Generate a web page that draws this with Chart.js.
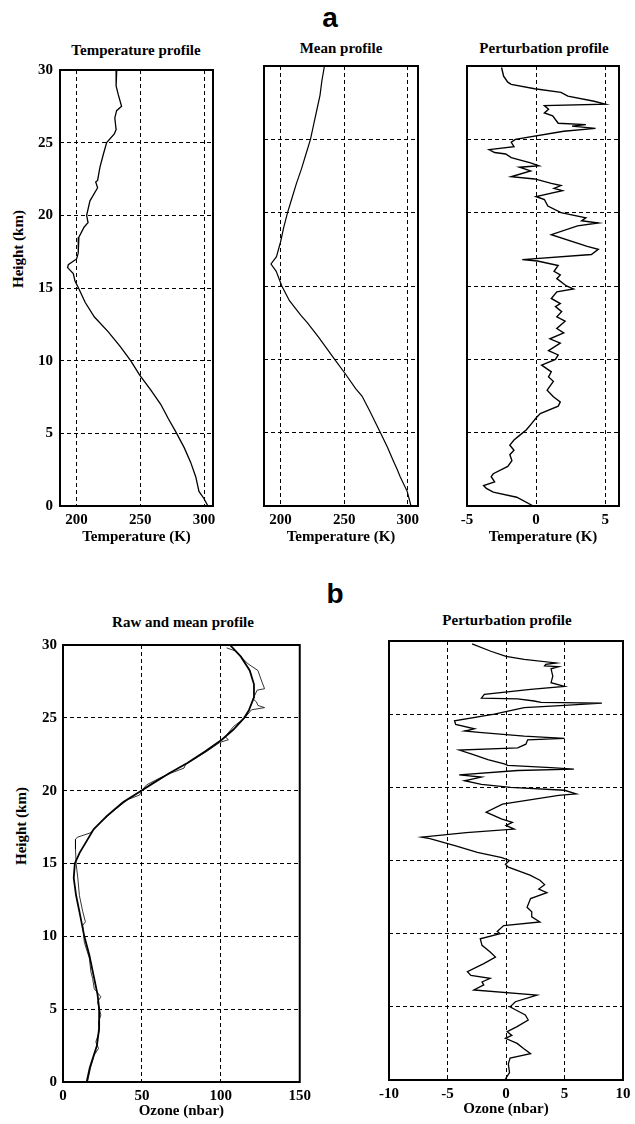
<!DOCTYPE html>
<html>
<head>
<meta charset="utf-8">
<script src="https://cdn.jsdelivr.net/npm/chart.js@4.4.1/dist/chart.umd.min.js"></script>
<style>
  html, body { margin: 0; padding: 0; background: #fff; }
  #page { position: relative; width: 635px; height: 1124px; overflow: hidden; background: #fff; }
  canvas { position: absolute; }
  .lbl { position: absolute; transform: translate(-50%, -50%); white-space: nowrap;
         font: bold 15px "Liberation Serif", "DejaVu Serif", serif; color: #000; }
  .panel { font: bold 28px "Liberation Sans", Arial, sans-serif; }
  .ytitle { transform: translate(-50%, -50%) rotate(-90deg); }
</style>
</head>
<body>
<div id="page">
  <div class="lbl panel" style="left:330px; top:18px">a</div>
  <div class="lbl" style="left:136px; top:50px">Temperature profile</div>
  <div class="lbl" style="left:341px; top:48px">Mean profile</div>
  <div class="lbl" style="left:544px; top:48px">Perturbation profile</div>
  <div class="lbl ytitle" style="left:18px; top:249px">Height (km)</div>

  <div class="lbl panel" style="left:335px; top:594px">b</div>
  <div class="lbl" style="left:183px; top:622px">Raw and mean profile</div>
  <div class="lbl" style="left:507px; top:620px">Perturbation profile</div>
  <div class="lbl ytitle" style="left:21px; top:826px">Height (km)</div>
</div>
<script>
// --- tick labels ---
const heightTicks = [0, 5, 10, 15, 20, 25, 30];
const tempTicks = [200, 250, 300];
const tempPertTicks = [-5, 0, 5];
const ozoneTicks = [0, 50, 100, 150];
const ozonePertTicks = [-10, -5, 0, 5, 10];

// --- a: temperature profile (height km, temperature K) ---
const tempH = [30, 29.5, 28.9, 28.3, 27.5, 27.2, 26.7, 25.9, 25.6, 25.0, 24.2, 23.3, 22.4, 22.3, 21.9, 21.0,
  20.0, 19.5, 19.2, 18.5, 17.4, 17.0, 16.6, 16.4, 16.0, 15.5, 15.0, 14.0, 13.0, 12.0, 11.0, 10.0,
  9.0, 8.0, 7.0, 6.0, 5.0, 4.0, 3.0, 2.0, 1.0, 0.5, 0.0];
const tempK = [231.5, 231, 231, 232.7, 235.3, 231.4, 230, 231, 229.6, 223.6, 221, 218.3, 216.5, 215, 216.5, 210.5,
  207.9, 209, 206, 201.8, 201.3, 200, 193.5, 193, 197.4, 198.7, 201.5, 206.8, 214, 224.7, 234, 242.4,
  249.5, 258, 266, 272, 278.5, 284.5, 289.5, 293.5, 296, 300, 303];

// --- a: mean profile ---
const meanH = [30, 29, 28, 27, 26, 25, 24, 23, 22, 21, 20, 19, 18, 17, 16.5, 16, 15, 14, 13, 12.5, 11.5,
  10, 9, 8, 7.5, 6.5, 5, 4, 3, 2.5, 2, 1, 0];
const meanK = [234.5, 232.5, 231, 228.5, 226, 223.5, 220, 216.5, 212.5, 209, 205.5, 202.5, 200, 196.8, 192.5, 196.6, 201, 207, 216, 221, 230,
  242.5, 251, 259, 264, 270, 278.5, 284, 289, 291.6, 294, 299.5, 302.5];

// --- a: perturbation profile ---
const pertH = [29.9, 29.3, 28.9, 28.75, 28.45, 28.2, 27.95, 27.6, 27.4, 27.3, 27.05, 26.8, 26.6, 26.1, 26.0, 25.9,
  25.75, 25.55, 25.0, 24.8, 24.5, 24.3, 24.1, 24.0, 23.75, 23.4, 23.2, 23.1, 22.85, 22.45, 22.3, 22.0,
  21.85, 21.65, 21.5, 21.1, 20.9, 20.45, 20.0, 19.65, 19.45, 19.3, 19.1, 18.5, 17.7, 17.5, 17.15, 16.8,
  16.7, 16.4, 16.0, 15.75, 15.5, 15.0, 14.8, 14.6, 14.15, 13.8, 13.6, 13.25, 12.9, 12.6, 12.1, 11.8,
  11.4, 11.1, 10.6, 10.3, 10.0, 9.6, 9.15, 8.8, 8.5, 7.9, 7.45, 7.1, 6.8, 6.3, 6.0, 5.65,
  5.2, 4.85, 4.5, 4.15, 3.8, 3.5, 3.1, 2.7, 2.2, 2.0, 1.65, 1.4, 1.2, 0.95, 0.6, 0.0];
const pertK = [-2.5, -2.35, -2.05, -1.8, -0.1, 1.8, 2.3, 4.2, 5.0, 0.6, 0.9, 0.6, 1.2, 1.6, 3.6, 2.6,
  4.3, 2.0, -1.5, -1.8, -1.6, -3.4, -3.0, -2.2, -1.8, -0.4, 0.2, -1.2, -0.4, -1.8, -0.1, 1.1,
  1.8, 1.3, 1.9, 0.0, 0.6, 0.85, 1.8, 3.6, 3.3, 4.5, 3.0, 1.1, 3.7, 4.5, 4.0, -1.0,
  0.1, 1.6, 1.3, 1.75, 1.5, 2.2, 2.7, 1.5, 1.1, 1.75, 1.4, 1.85, 1.5, 2.1, 1.5, 2.0,
  1.0, 1.75, 0.9, 1.6, 1.4, 0.4, 1.1, 0.9, 1.25, 0.8, 1.25, 1.75, 1.6, 0.3, 0.0, -0.3,
  -0.7, -1.15, -1.6, -1.9, -1.6, -1.9, -1.75, -2.05, -3.1, -3.25, -3.0, -3.8, -3.6, -3.1, -1.4, -0.2];

// --- b: ozone raw profile (height km, ozone nbar) ---
const ozoneRawH = [29.8, 29.6, 28.7, 28.25, 27.6, 27.0, 26.9, 26.3, 26.1, 25.85, 25.7, 25.55, 25.0, 24.4, 23.7, 23.5,
  23.3, 22.7, 22.35, 21.8, 21.55, 21.2, 20.85, 20.4, 20.05, 19.7, 19.4, 18.7, 17.8, 17.1, 16.8, 16.65,
  16.0, 15.0, 14.0, 12.8, 11.7, 11.0, 10.75, 9.6, 8.5, 7.55, 7.1, 6.4, 5.85, 5.5, 4.6, 4.1,
  3.45, 2.75, 2.3, 1.85, 1.0, 0.0];
const ozoneRaw = [103.7, 109, 117.3, 123.5, 125.6, 127.7, 123, 120.4, 122.5, 123.5, 127.7, 119.4, 115.2, 108, 102.7, 104.8,
  99.2, 91.2, 86, 77.7, 76.7, 68.3, 61, 53, 50.2, 48.5, 41.2, 33, 23.5, 17.3, 9, 7.9,
  7.9, 8.3, 9.4, 10.4, 12.5, 14.2, 12.5, 13.5, 16.7, 17.7, 18.8, 19.8, 24, 21.9, 24, 22.5,
  22.9, 20.8, 22.5, 19.8, 17.5, 15.5];

// --- b: ozone mean profile ---
const ozoneMeanH = [30, 29.2, 28.25, 27.3, 26.4, 25.5, 25.0, 24.2, 23.5, 22.7, 21.9, 21.2, 20.5, 20.0, 19.2, 18.25,
  17.35, 16.4, 15.75, 15.0, 14.0, 12.8, 11.7, 10.0, 8.7, 7.1, 6.0, 5.0, 3.7, 2.5, 1.0, 0.0];
const ozoneMean = [105.8, 112.7, 118.3, 121, 121, 117.7, 114.8, 108, 100.6, 90.2, 78.8, 67.3, 56.9, 49.6, 38, 27.7,
  19.4, 14.2, 10.6, 7.5, 6.8, 8.3, 10.4, 13.5, 16.7, 19.8, 21.9, 22.9, 22.9, 21.5, 17, 15];

// --- b: ozone perturbation profile ---
const ozonePertH = [29.8, 29.3, 28.95, 28.75, 28.5, 28.4, 28.3, 28.25, 28.1, 27.6, 27.15, 26.9, 26.7, 26.35, 26.1, 26.05,
  25.9, 25.8, 25.75, 25.6, 25.45, 25.0, 24.55, 24.3, 24.0, 23.85, 23.75, 23.5, 23.35, 23.25, 22.95, 22.7,
  22.55, 22.25, 21.9, 21.6, 21.5, 21.35, 21.25, 21.15, 20.85, 20.7, 20.45, 20.2, 20.0, 19.8, 19.55, 19.45,
  18.85, 18.3, 17.85, 17.6, 17.4, 17.15, 16.9, 16.6, 16.5, 16.0, 15.55, 15.2, 15.0, 14.75, 14.55, 14.0,
  13.65, 13.35, 13.05, 12.8, 12.4, 11.8, 11.5, 11.15, 10.8, 10.55, 10.15, 10.0, 9.65, 9.2, 8.75, 8.4,
  7.95, 7.4, 7.15, 6.95, 6.7, 6.5, 6.15, 5.8, 5.35, 5.0, 4.8, 4.45, 4.1, 3.65, 3.3, 3.05,
  2.85, 2.5, 2.15, 1.8, 1.5, 1.1, 0.5, 0.0];
const ozonePert = [-2.9, -1.3, 0, 1.55, 4.3, 3.4, 3.3, 4.5, 3.85, 4.0, 3.85, 5.0, 2.1, -1.85, -2.1, 1.0,
  2.4, 3.0, 8.2, 5.0, 1.55, -1.0, -4.4, -4.3, -2.7, -3.55, -2.3, 1.55, 5.0, 1.85, 1.7, 1.0,
  -4.0, -2.85, -1.55, -0.15, 0.15, 3.85, 5.8, 1.0, -4.0, -2.1, -3.55, -2.1, 0.4, 5.0, 6.0, 4.5,
  -0.3, -1.7, -0.4, 0.55, 0, 0.7, -3.4, -7.2, -6.5, -4.3, -2.45, -0.35, 0.3, -0.05, 0.2, 2.05,
  2.9, 3.3, 2.8, 3.5, 2.1, 1.8, 2.2, 2.2, 2.9, -0.2, -0.75, -0.5, -2.2, -2.05, -1.35, -0.9,
  -1.9, -3.3, -3.0, -1.35, -2.05, -1.9, -2.75, 2.65, 0.8, 0.35, 0.8, 1.65, 1.9, 0.95, 0.1, 0.5,
  -0.05, 0.95, 1.5, 2.1, 0.35, 0.2, 0.3, -0.1];

Chart.defaults.font.family = '"Liberation Serif", "DejaVu Serif", serif';
Chart.defaults.font.size = 15;
Chart.defaults.font.weight = 'bold';
Chart.defaults.color = '#000';

// frame drawn round each plot area
const framePlugin = {
  id: 'frame',
  afterDraw(chart) {
    const a = chart.chartArea;
    const ctx = chart.ctx;
    ctx.save();
    ctx.strokeStyle = '#000';
    ctx.lineWidth = 2;
    ctx.strokeRect(a.left, a.top, a.right - a.left, a.bottom - a.top);
    ctx.restore();
  }
};

function toPoints(heights, values) {
  return heights.map((h, i) => ({ x: values[i], y: h }));
}

function makeChart(box, opt) {
  const yw = 40, padTop = 12, padRight = 14;
  const canvas = document.createElement('canvas');
  canvas.width = (box.r - box.l) + yw + padRight;
  canvas.height = (box.b - box.t) + padTop + opt.xh;
  canvas.style.left = (box.l - yw) + 'px';
  canvas.style.top = (box.t - padTop) + 'px';
  document.getElementById('page').appendChild(canvas);

  return new Chart(canvas, {
    type: 'scatter',
    data: {
      datasets: opt.series.map(s => ({
        data: toPoints(s.h, s.v),
        showLine: true,
        borderColor: '#000',
        borderWidth: s.width,
        pointRadius: 0,
        tension: 0
      }))
    },
    options: {
      responsive: false,
      animation: false,
      events: [],
      layout: { padding: { top: padTop, right: padRight, left: 0, bottom: 0 } },
      plugins: { legend: { display: false }, tooltip: { enabled: false } },
      scales: {
        x: {
          type: 'linear',
          min: opt.xMin,
          max: opt.xMax,
          afterBuildTicks: scale => { scale.ticks = opt.xTicks.map(v => ({ value: v })); },
          afterFit: scale => { scale.height = opt.xh; },
          ticks: { padding: 5, maxRotation: 0 },
          grid: { color: '#000', lineWidth: 1, drawTicks: false },
          border: { display: false, dash: [4, 3] },
          title: { display: true, text: opt.xTitle, padding: 0 }
        },
        y: {
          type: 'linear',
          min: 0,
          max: 30,
          afterBuildTicks: scale => { scale.ticks = heightTicks.map(v => ({ value: v })); },
          afterFit: scale => { scale.width = yw; },
          ticks: { display: opt.showY, padding: opt.yPad || 7 },
          grid: { color: '#000', lineWidth: 1, drawTicks: false },
          border: { display: false, dash: [4, 3] }
        }
      }
    },
    plugins: [framePlugin]
  });
}

// panel a
makeChart({ l: 60, r: 213, t: 66, b: 506 }, {
  xMin: 187, xMax: 307, xTicks: tempTicks, xTitle: 'Temperature (K)', xh: 40, showY: true, yPad: 7,
  series: [{ h: tempH, v: tempK, width: 1.3 }]
});
makeChart({ l: 264, r: 418, t: 66, b: 506 }, {
  xMin: 187, xMax: 308, xTicks: tempTicks, xTitle: 'Temperature (K)', xh: 40, showY: false,
  series: [{ h: meanH, v: meanK, width: 1.2 }]
});
makeChart({ l: 467, r: 619, t: 66, b: 506 }, {
  xMin: -5, xMax: 6, xTicks: tempPertTicks, xTitle: 'Temperature (K)', xh: 40, showY: false,
  series: [{ h: pertH, v: pertK, width: 1.4 }]
});

// panel b
makeChart({ l: 63, r: 302, t: 642, b: 1082 }, {
  xMin: 0, xMax: 150, xTicks: ozoneTicks, xTitle: 'Ozone (nbar)', xh: 38, showY: true, yPad: 6,
  series: [{ h: ozoneRawH, v: ozoneRaw, width: 0.8 }, { h: ozoneMeanH, v: ozoneMean, width: 1.8 }]
});
makeChart({ l: 389, r: 623, t: 641, b: 1080 }, {
  xMin: -10, xMax: 10, xTicks: ozonePertTicks, xTitle: 'Ozone (nbar)', xh: 38, showY: false,
  series: [{ h: ozonePertH, v: ozonePert, width: 1.3 }]
});
</script>
</body>
</html>
